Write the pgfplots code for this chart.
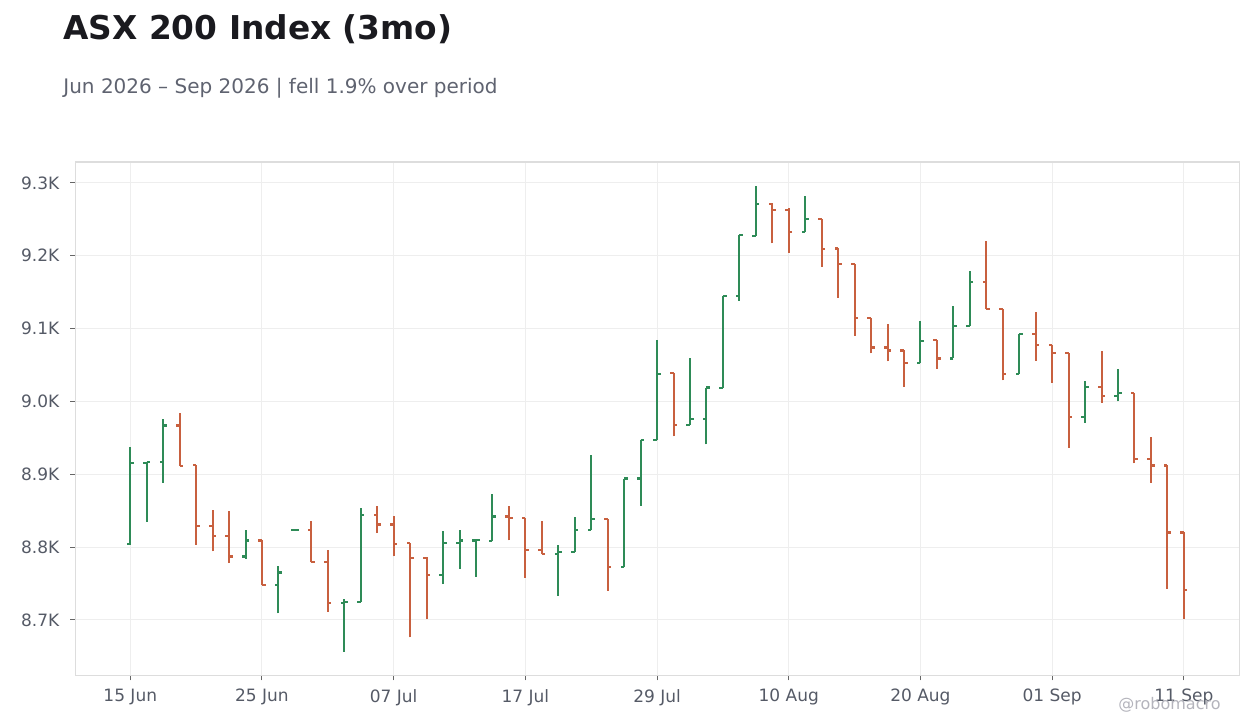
\documentclass[border=0pt]{standalone}
\usepackage{fontspec}
\setmainfont{DejaVu Sans}
\usepackage{pgfplots}
\usepackage{pgfplotstable}
\pgfplotsset{compat=1.18}

\definecolor{upc}{HTML}{2E8B57}
\definecolor{downc}{HTML}{C8603F}
\definecolor{gridc}{HTML}{EEEEEE}
\definecolor{framec}{HTML}{DDDDDD}
\definecolor{tickc}{HTML}{666666}
\definecolor{labelc}{HTML}{555A66}
\definecolor{titlec}{HTML}{1A1A1F}
\definecolor{subc}{HTML}{5F6370}
\definecolor{markc}{HTML}{B4B4BC}

% trading day index, open, high, low, close
\pgfplotstableread{
x  o    h    l    c
0  8804 8937 8803 8915
1  8915 8917 8835 8917
2  8917 8976 8888 8967
7  8787 8823 8784 8809
9  8748 8774 8709 8765
10 8823 8823 8823 8823
13 8723 8728 8656 8725
14 8725 8854 8725 8844
19 8762 8822 8749 8806
20 8806 8823 8770 8809
21 8809 8810 8759 8810
22 8808 8873 8808 8842
26 8790 8803 8733 8793
27 8793 8841 8793 8823
28 8823 8926 8823 8839
30 8773 8894 8773 8894
31 8894 8947 8857 8947
32 8947 9085 8947 9038
34 8968 9059 8968 8976
35 8976 9019 8941 9019
36 9018 9145 9018 9145
37 9145 9229 9138 9228
38 9227 9296 9227 9271
41 9233 9282 9233 9251
48 9053 9110 9053 9083
50 9059 9131 9059 9103
51 9103 9179 9103 9164
54 9038 9093 9038 9093
58 8979 9028 8971 9020
60 9007 9045 9000 9011
}\updata

\pgfplotstableread{
x  o    h    l    c
3  8967 8984 8911 8911
4  8913 8913 8803 8829
5  8829 8851 8794 8815
6  8815 8850 8778 8787
8  8809 8810 8748 8748
11 8823 8836 8779 8779
12 8779 8796 8711 8723
15 8844 8856 8819 8831
16 8831 8843 8787 8804
17 8805 8805 8676 8785
18 8785 8786 8701 8762
23 8842 8856 8809 8840
24 8840 8840 8758 8796
25 8796 8836 8790 8790
29 8839 8839 8740 8772
33 9039 9039 8952 8968
39 9271 9273 9217 9263
40 9263 9266 9204 9233
42 9251 9251 9185 9209
43 9210 9210 9142 9189
44 9189 9189 9090 9115
45 9115 9115 9066 9074
46 9074 9106 9055 9070
47 9070 9070 9020 9053
49 9084 9084 9045 9059
52 9164 9220 9127 9127
53 9127 9127 9029 9038
55 9093 9123 9056 9077
56 9077 9077 9025 9067
57 9067 9067 8936 8979
59 9020 9069 8998 9007
61 9011 9011 8915 8921
62 8921 8951 8888 8912
63 8912 8912 8743 8820
64 8820 8820 8701 8741
}\downdata

% one OHLC series: high-low line, open tick left, close tick right
\newcommand{\ohlc}[2]{%
  \addplot[draw=none, mark=none, forget plot,
    error bars/.cd, y dir=plus, y explicit, error mark=none,
    error bar style={draw=#2, line width=1pt}]
    table[x=x, y=l, y error expr=\thisrow{h}-\thisrow{l}] {#1};
  \addplot[draw=none, mark=none, forget plot,
    error bars/.cd, x dir=minus, x fixed=0.22, error mark=none,
    error bar style={draw=#2, line width=1.1pt}]
    table[x=x, y=o] {#1};
  \addplot[draw=none, mark=none, forget plot,
    error bars/.cd, x dir=plus, x fixed=0.22, error mark=none,
    error bar style={draw=#2, line width=1.1pt}]
    table[x=x, y=c] {#1};
}

\begin{document}
\begin{tikzpicture}
\path[use as bounding box] (0,0) rectangle (630pt,364pt);

\node[anchor=base west, inner sep=0, text=titlec,
  font=\fontsize{16.4}{20}\selectfont\bfseries] at (31.5pt,344pt) {ASX 200 Index (3mo)};
\node[anchor=base west, inner sep=0, text=subc,
  font=\fontsize{10}{12}\selectfont] at (31.5pt,317.3pt) {Jun 2026 – Sep 2026 | fell 1.9\% over period};

\begin{axis}[
  scale only axis,
  width=582pt, height=256.65pt,
  at={(37.65pt,26.35pt)}, anchor=south west,
  xmin=-3.34, xmax=67.37,
  ymin=8623.8, ymax=9328.8,
  xtick={0,8,...,64},
  xticklabels={15 Jun,25 Jun,07 Jul,17 Jul,29 Jul,10 Aug,20 Aug,01 Sep,11 Sep},
  ytick={8700,8800,...,9300},
  yticklabels={8.7K,8.8K,8.9K,9.0K,9.1K,9.2K,9.3K},
  xtick pos=bottom, ytick pos=left,
  grid=major,
  major grid style={draw=gridc, line width=0.5pt},
  axis line style={draw=framec, line width=0.6pt},
  tick align=outside,
  major tick length=2.5pt,
  tick style={draw=tickc, line width=0.5pt},
  ticklabel style={font=\fontsize{8.5}{10}\selectfont, text=labelc},
  xticklabel style={yshift=-1pt},
  yticklabel style={xshift=-2pt},
]
\ohlc{\updata}{upc}
\ohlc{\downdata}{downc}
\end{axis}

\node[anchor=base west, inner sep=0, text=markc,
  font=\fontsize{8}{10}\selectfont] at (559pt,9pt) {@robomacro};
\end{tikzpicture}
\end{document}
